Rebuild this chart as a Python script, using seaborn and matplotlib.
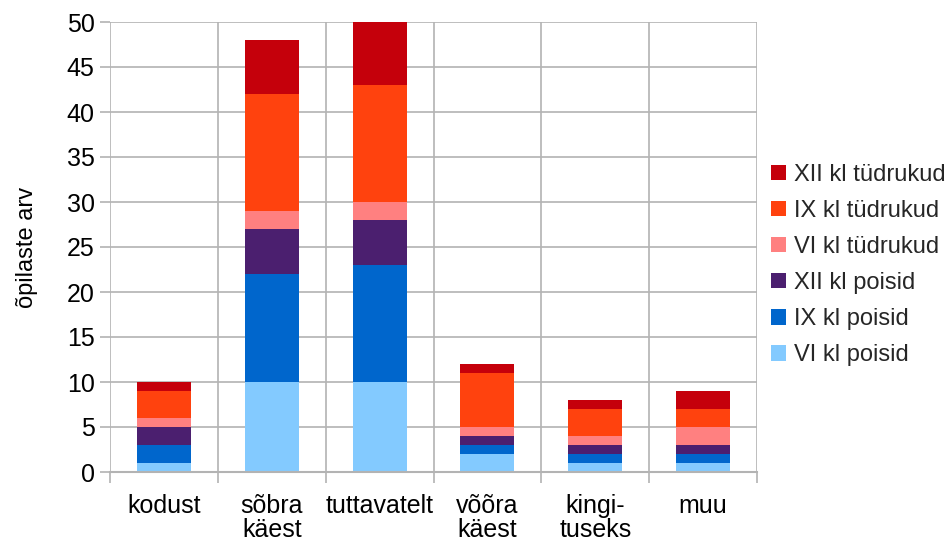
import numpy as np
import pandas as pd
import matplotlib
matplotlib.use('Agg')
import matplotlib.pyplot as plt
import seaborn as sns

categories = ['kodust', 'sõbra\nkäest', 'tuttavatelt', 'võõra\nkäest', 'kingi-\ntuseks', 'muu']
series = ['VI kl poisid', 'IX kl poisid', 'XII kl poisid', 'VI kl tüdrukud', 'IX kl tüdrukud', 'XII kl tüdrukud']
vi_poisid = [1, 10, 10, 2, 1, 1]
ix_poisid = [2, 12, 13, 1, 1, 1]
xii_poisid = [2, 5, 5, 1, 1, 1]
vi_tudrukud = [1, 2, 2, 1, 1, 2]
ix_tudrukud = [3, 13, 13, 6, 3, 2]
xii_tudrukud = [1, 6, 7, 1, 1, 2]
colors = ['#83caff', '#0066cc', '#4b1f6f', '#ff8080', '#ff420e', '#c5000b']

sns.set_theme(style='white')
plt.rcParams['font.family'] = ['Liberation Sans', 'DejaVu Sans']

df = pd.DataFrame({'kategooria': categories})
values = [vi_poisid, ix_poisid, xii_poisid, vi_tudrukud, ix_tudrukud, xii_tudrukud]
for name, vals in zip(series, values):
	df[name] = vals
cum = df[series].cumsum(axis=1)
cum['kategooria'] = categories

fig = plt.figure(figsize=(9.5, 5.42), dpi=100)
ax = fig.add_axes([110/950, 70/542, 647/950, 450/542])

# stacked bars: draw the tallest cumulative first
for name, col in zip(series[::-1], colors[::-1]):
	sns.barplot(data=cum, x='kategooria', y=name, color=col, width=0.5,
		saturation=1, label=name, ax=ax, edgecolor='none', linewidth=0)

grid_col = '#b3b3b3'
ax.set_ylim(0, 50)
ax.set_xlim(-0.5, 5.5)
ax.set_yticks(np.arange(0, 51, 5))
ax.set_xticks(np.arange(-0.5, 6, 1), minor=True)
ax.set_axisbelow(True)
ax.grid(axis='y', color=grid_col, linewidth=1.2)
ax.grid(axis='x', which='minor', color=grid_col, linewidth=1.2)
ax.grid(axis='x', which='major', visible=False)
for s in ax.spines.values():
	s.set_visible(False)
ax.spines['bottom'].set_visible(True)
ax.spines['bottom'].set_color(grid_col)
ax.spines['bottom'].set_linewidth(1.5)

ax.tick_params(axis='y', which='major', left=True, length=7, width=1.2, color=grid_col,
	labelsize=18, pad=4, labelcolor='black')
ax.tick_params(axis='x', which='major', length=0, labelsize=18, pad=16, labelcolor='black')
ax.tick_params(axis='x', which='minor', bottom=True, length=8, width=1.2, color=grid_col)
for lbl in ax.get_xticklabels():
	lbl.set_linespacing(1.0)
ax.set_xlabel('')
ax.set_ylabel('õpilaste arv', fontsize=17, labelpad=21, color='black')

handles, labels = ax.get_legend_handles_labels()
ax.legend(handles, labels, loc='center left', bbox_to_anchor=(1.0, 0.46), frameon=False,
	fontsize=17, handlelength=0.62, handleheight=0.62, handletextpad=0.35, labelspacing=0.6,
	borderaxespad=0.2)

plt.savefig('out.png', dpi=100)
